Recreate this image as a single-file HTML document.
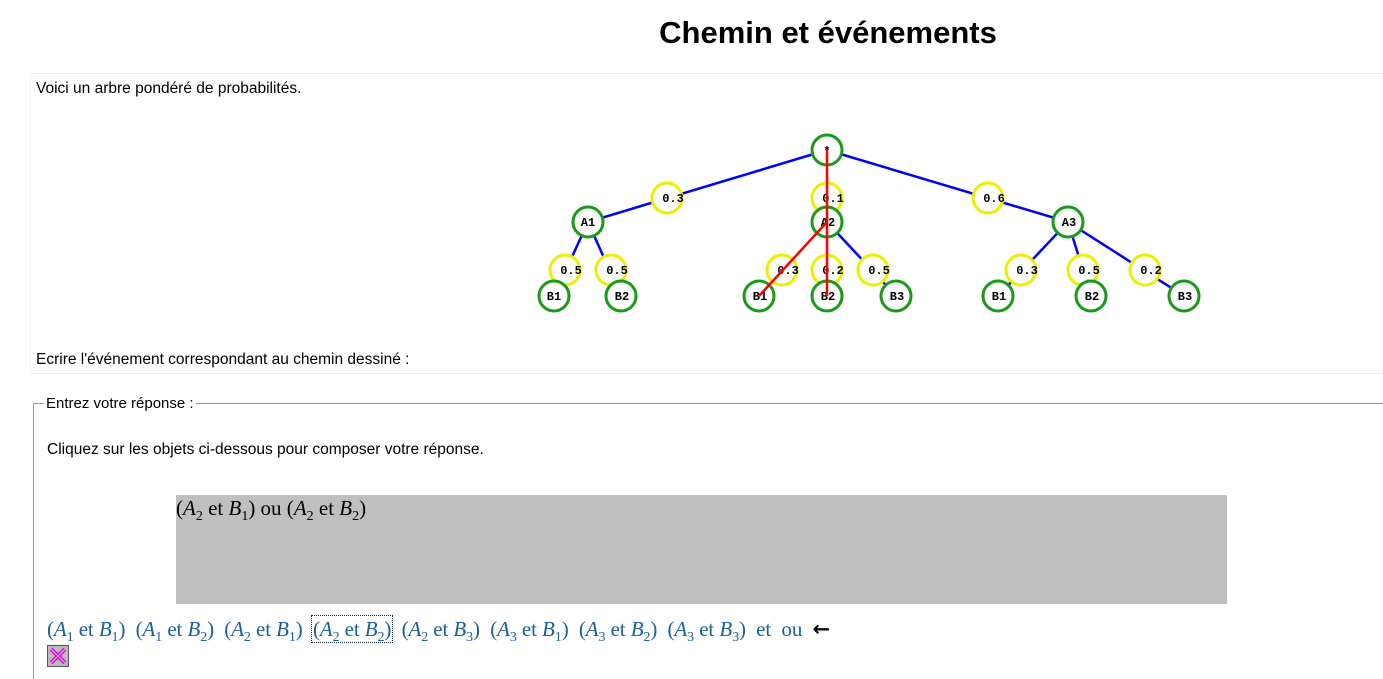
<!DOCTYPE html>
<html><head><meta charset="utf-8"><style>
html,body{margin:0;width:1383px;height:679px;overflow:hidden}
body{background:#fff;font-family:"Liberation Sans",sans-serif;position:relative}
.a{position:absolute;white-space:nowrap}
.m{font-family:"Liberation Serif",serif;font-size:21px}
.m i{font-style:italic}
.m sub{font-size:14px;vertical-align:-5px}
.b{color:#1a5fa0}
</style></head><body>
<div class="a" style="left:0;width:1656px;top:15px;text-align:center;font-size:31px;font-weight:bold">Chemin et événements</div>
<div class="a" style="left:30px;top:73px;width:1353px;border-top:1px solid #eee"></div>
<div class="a" style="left:30px;top:373px;width:1353px;border-top:1px solid #eee"></div>
<div class="a" style="left:30px;top:73px;height:300px;border-left:1px solid #f4f4f4"></div>
<div class="a" style="left:36px;top:80px;font-size:15.5px">Voici un arbre pondéré de probabilités.</div>
<div class="a" style="left:36px;top:351px;font-size:15.5px">Ecrire l'événement correspondant au chemin dessiné :</div>
<svg class="a" style="left:0;top:0" width="1383" height="340" font-family="Liberation Mono,monospace" font-size="12" font-weight="bold" text-anchor="middle">
<g stroke="#00f" stroke-width="2.5">
<line x1="827" y1="150" x2="588" y2="222"/><line x1="827" y1="150" x2="1068" y2="222"/>
<line x1="588" y1="222" x2="554" y2="296"/><line x1="588" y1="222" x2="621" y2="296"/>
<line x1="827" y1="222" x2="896" y2="296"/>
<line x1="1068" y1="222" x2="998" y2="296"/><line x1="1068" y1="222" x2="1091" y2="296"/><line x1="1068" y1="222" x2="1184" y2="296"/>
</g>
<g fill="#fff" stroke="#ee0" stroke-width="3">
<circle cx="667" cy="198" r="15"/><circle cx="827" cy="198" r="15"/><circle cx="988" cy="198" r="15"/>
<circle cx="565" cy="270" r="15"/><circle cx="611" cy="270" r="15"/>
<circle cx="782" cy="270" r="15"/><circle cx="827" cy="270" r="15"/><circle cx="873" cy="270" r="15"/>
<circle cx="1021" cy="270" r="15"/><circle cx="1083" cy="270" r="15"/><circle cx="1145" cy="270" r="15"/>
</g>
<g>
<text x="673" y="202">0.3</text><text x="833" y="202">0.1</text><text x="994" y="202">0.6</text>
<text x="571" y="274">0.5</text><text x="617" y="274">0.5</text>
<text x="788" y="274">0.3</text><text x="833" y="274">0.2</text><text x="879" y="274">0.5</text>
<text x="1027" y="274">0.3</text><text x="1089" y="274">0.5</text><text x="1151" y="274">0.2</text>
</g>
<g fill="#fff" stroke="#1a9a1a" stroke-width="3">
<circle cx="827" cy="150" r="15"/>
<circle cx="588" cy="222" r="15"/><circle cx="827" cy="222" r="15"/><circle cx="1068" cy="222" r="15"/>
<circle cx="554" cy="296" r="15"/><circle cx="621" cy="296" r="15"/>
<circle cx="759" cy="296" r="15"/><circle cx="827" cy="296" r="15"/><circle cx="896" cy="296" r="15"/>
<circle cx="998" cy="296" r="15"/><circle cx="1091" cy="296" r="15"/><circle cx="1184" cy="296" r="15"/>
</g>
<g>
<text x="827" y="155">*</text>
<text x="588" y="226">A1</text><text x="828" y="226">A2</text><text x="1069" y="226">A3</text>
<text x="554" y="300">B1</text><text x="622" y="300">B2</text>
<text x="760" y="300">B1</text><text x="828" y="300">B2</text><text x="897" y="300">B3</text>
<text x="999" y="300">B1</text><text x="1092" y="300">B2</text><text x="1185" y="300">B3</text>
</g>
<g stroke="#f00" stroke-width="2.5">
<line x1="827" y1="150" x2="827" y2="296"/><line x1="827" y1="222" x2="759" y2="296"/>
</g>
</svg>
<div class="a" style="left:33px;top:403px;width:1350px;height:276px;border-top:1px solid #999;border-left:1px solid #999;box-sizing:border-box"></div>
<div class="a" style="left:44px;top:395px;background:#fff;padding:0 2px;font-size:15px">Entrez votre réponse :</div>
<div class="a" style="left:47px;top:441px;font-size:15.5px">Cliquez sur les objets ci-dessous pour composer votre réponse.</div>
<div class="a" style="left:176px;top:495px;width:1051px;height:109px;background:#bfbfbf"></div>
<div class="a m" style="left:176px;top:496px">(<i>A</i><sub>2</sub> et <i>B</i><sub>1</sub>) ou (<i>A</i><sub>2</sub> et <i>B</i><sub>2</sub>)</div>
<div class="a m b" style="left:47px;top:617px;letter-spacing:-0.1px">(<i>A</i><sub>1</sub> et <i>B</i><sub>1</sub>)&nbsp; (<i>A</i><sub>1</sub> et <i>B</i><sub>2</sub>)&nbsp; (<i>A</i><sub>2</sub> et <i>B</i><sub>1</sub>)&nbsp; <span style="outline:1px dotted #124;outline-offset:1px">(<i>A</i><sub>2</sub> et <i>B</i><sub>2</sub>)</span>&nbsp; (<i>A</i><sub>2</sub> et <i>B</i><sub>3</sub>)&nbsp; (<i>A</i><sub>3</sub> et <i>B</i><sub>1</sub>)&nbsp; (<i>A</i><sub>3</sub> et <i>B</i><sub>2</sub>)&nbsp; (<i>A</i><sub>3</sub> et <i>B</i><sub>3</sub>)&nbsp; et&nbsp; ou&nbsp; <span style="color:#000;font-family:'DejaVu Sans';font-weight:bold">&#x2190;</span></div>
<svg class="a" style="left:47px;top:645px" width="22" height="22"><rect x="0.5" y="0.5" width="21" height="21" fill="#bbb" stroke="#555"/><path d="M4 4L18 18M18 4L4 18" stroke="#c0c" stroke-width="4"/><path d="M4 4L18 18M18 4L4 18" stroke="#f9f" stroke-width="1.3"/></svg>
</body></html>
